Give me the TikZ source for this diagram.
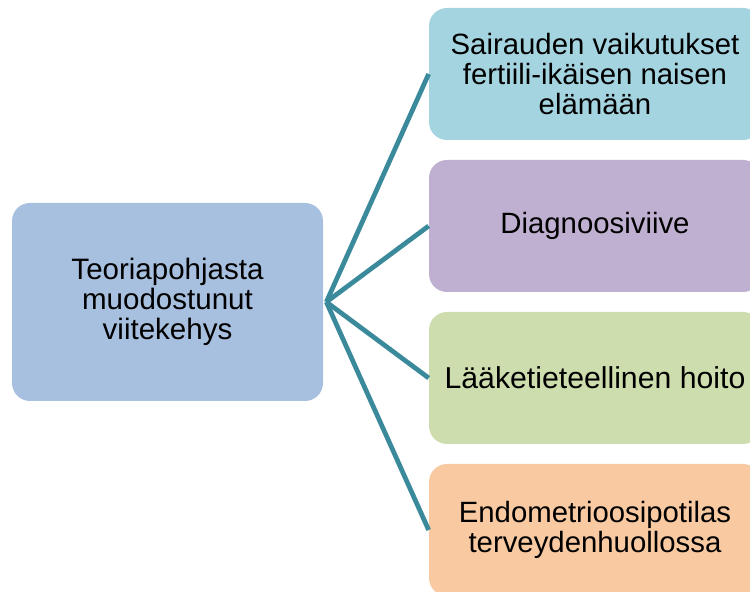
\documentclass[tikz,border=0pt]{standalone}
\usepackage{fontspec}
\setmainfont{Liberation Sans}
\usepackage{tikz}
\definecolor{mainblue}{HTML}{A8C0DF}
\definecolor{boxcyan}{HTML}{A5D4E1}
\definecolor{boxlilac}{HTML}{BFB0D1}
\definecolor{boxgreen}{HTML}{CEDDAD}
\definecolor{boxorange}{HTML}{F9CAA2}
\definecolor{linkteal}{HTML}{3B8A9B}
\tikzstyle{mainbox} = [rectangle, rounded corners=0.36cm, minimum width=6.22cm, minimum height=3.96cm, align=center, fill=mainblue, font=\fontsize{16.8}{16.9}\selectfont]
\tikzstyle{topic} = [rectangle, rounded corners=0.36cm, minimum width=6.64cm, minimum height=2.64cm, align=center, font=\fontsize{16.7}{16.8}\selectfont]
\tikzstyle{link} = [line width=2.7pt, draw=linkteal]

\begin{document}
\begin{tikzpicture}[node distance = 3.04cm]
\useasboundingbox (0,0) rectangle (15,11.84);
\clip (0,0) rectangle (15,11.84);
\node (frame) [mainbox] at (3.35,5.8) {Teoriapohjasta\\muodostunut\\viitekehys};
\node (effects) [topic, fill=boxcyan] at (11.9,10.36) {Sairauden vaikutukset\\fertiili-ikäisen naisen\\elämään};
\node (delay) [topic, fill=boxlilac, below of = effects] {Diagnoosiviive};
\node (care) [topic, fill=boxgreen, below of = delay, font=\fontsize{17.2}{17.3}\selectfont] {Lääketieteellinen hoito};
\node (patient) [topic, fill=boxorange, below of = care] {Endometrioosipotilas\\terveydenhuollossa};
\coordinate (hub) at ([xshift=0.06cm]frame.east);
\draw [link] (hub) -- (effects.west);
\draw [link] (hub) -- (delay.west);
\draw [link] (hub) -- (care.west);
\draw [link] (hub) -- (patient.west);
\end{tikzpicture}
\end{document}
